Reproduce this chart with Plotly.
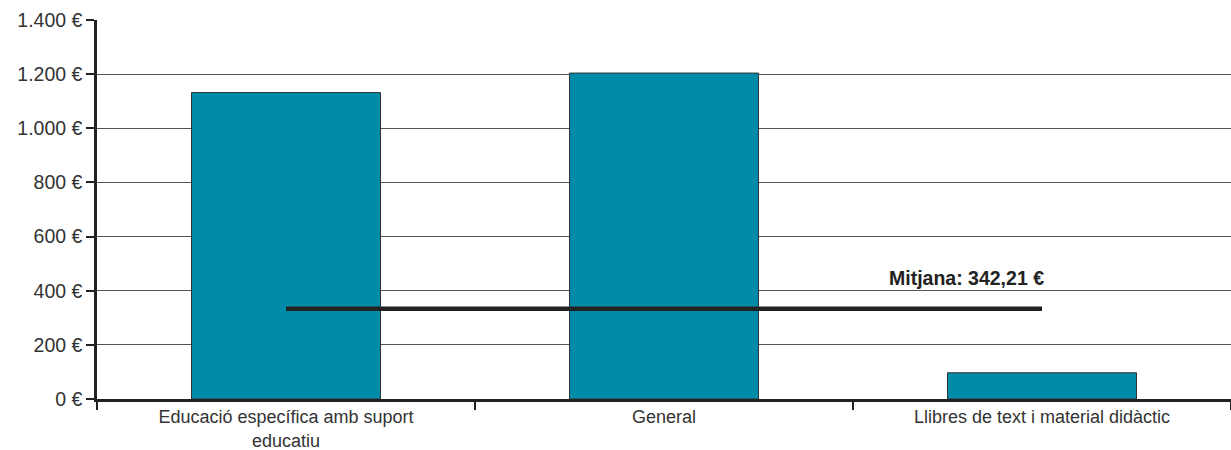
import plotly.graph_objects as go

categories = ["Educació específica amb suport<br>educatiu", "General", "Llibres de text i material didàctic"]
values = [1132, 1204, 97]
mean_label = "Mitjana: 342,21 €"
mean_value = 333
y_tickvals = [0, 200, 400, 600, 800, 1000, 1200, 1400]
y_ticktext = ["0 €", "200 €", "400 €", "600 €", "800 €", "1.000 €", "1.200 €", "1.400 €"]

FONT = "Liberation Sans, Arial, sans-serif"

fig = go.Figure()
fig.add_trace(go.Bar(
    x=categories, y=values, width=0.5,
    marker=dict(color="#008BA8", line=dict(color="#333333", width=1)),
    showlegend=False, hoverinfo="skip",
))
fig.add_trace(go.Scatter(
    x=[categories[0], categories[2]], y=[mean_value, mean_value],
    mode="lines", line=dict(color="#222222", width=4.5),
    showlegend=False, hoverinfo="skip",
))
fig.add_annotation(
    x=categories[2], y=mean_value, text="<b>" + mean_label + "</b>",
    showarrow=False, xanchor="right", yanchor="bottom", xshift=4, yshift=18,
    font=dict(size=19.5, color="#222222", family=FONT),
)

fig.update_layout(
    width=1231, height=450,
    margin=dict(l=97, r=0, t=20, b=51),
    paper_bgcolor="white", plot_bgcolor="white",
    font=dict(family=FONT, size=19.5, color="#333333"),
)
fig.update_yaxes(
    range=[0, 1400], tickvals=y_tickvals, ticktext=y_ticktext,
    showgrid=True, gridcolor="#555555", gridwidth=1,
    showline=True, linecolor="#222222", linewidth=2.5,
    ticks="outside", ticklen=8, tickwidth=2, tickcolor="#222222",
    zeroline=False, automargin=False,
)
fig.update_xaxes(
    type="category", tickson="boundaries",
    showline=True, linecolor="#222222", linewidth=2.5,
    ticks="outside", ticklen=8, tickwidth=2, tickcolor="#222222",
    showgrid=False, range=[-0.5, 2.5], automargin=False,
    tickfont=dict(size=18),
)

fig.write_html(
    "out.html",
    config={"displayModeBar": False},
    post_script="document.body.style.margin='0';document.body.style.overflow='hidden';",
)
